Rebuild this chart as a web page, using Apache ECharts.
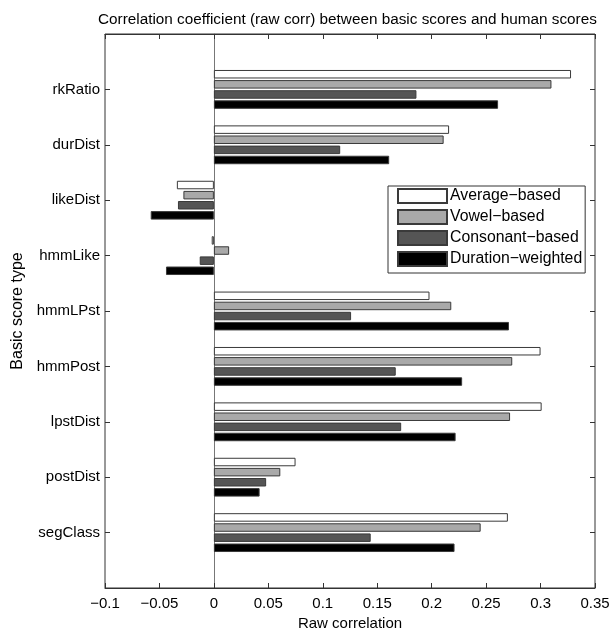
<!DOCTYPE html>
<html>
<head>
<meta charset="utf-8">
<title>Correlation coefficient</title>
<script src="https://cdn.jsdelivr.net/npm/echarts@6/dist/echarts.min.js"></script>
<style>
    html, body { margin: 0; padding: 0; background: #fff; }
    #chart { width: 613px; height: 628px; }
</style>
</head>
<body>
<div id="chart"></div>
<script>
    // 类别 (从上到下)
    var categories = ['rkRatio', 'durDist', 'likeDist', 'hmmLike', 'hmmLPst', 'hmmPost', 'lpstDist', 'postDist', 'segClass'];

    var seriesNames = ['Average\u2212based', 'Vowel\u2212based', 'Consonant\u2212based', 'Duration\u2212weighted'];

    var averageBased = [0.328, 0.216, -0.034, -0.002, 0.198, 0.300, 0.301, 0.075, 0.270];
    var vowelBased = [0.310, 0.211, -0.028, 0.014, 0.218, 0.274, 0.272, 0.061, 0.245];
    var consonantBased = [0.186, 0.116, -0.033, -0.013, 0.126, 0.167, 0.172, 0.048, 0.144];
    var durationWeighted = [0.261, 0.161, -0.058, -0.044, 0.271, 0.228, 0.222, 0.042, 0.221];

    var xTicks = { min: -0.1, max: 0.35, interval: 0.05 };

    var barColors = ['#ffffff', '#a9a9a9', '#555555', '#000000'];
    var font = 'Liberation Sans, Arial, Helvetica, sans-serif';

    var chart = echarts.init(document.getElementById('chart'), null, { renderer: 'canvas' });

    function tickLabel(v) {
        var s = String(Math.round(v * 1000) / 1000);
        return s.replace('-', '\u2212');
    }

    var allValues = [averageBased, vowelBased, consonantBased, durationWeighted];
    var series = [];
    for (var i = 0; i < allValues.length; i++) {
        series.push({
            name: seriesNames[i],
            type: 'bar',
            xAxisIndex: 2,
            yAxisIndex: 1,
            data: allValues[i],
            barWidth: 8.5,
            barGap: '19%',
            itemStyle: {
                color: barColors[i],
                borderColor: '#3a3a3a',
                borderWidth: 1
            },
            emphasis: { disabled: true },
            animation: false
        });
    }

    var option = {
        backgroundColor: '#ffffff',
        animation: false,
        textStyle: { fontFamily: font, color: '#000' },
        title: {
            text: 'Correlation coefficient (raw corr) between basic scores and human scores',
            left: 93,
            top: 7,
            textStyle: { fontFamily: font, fontSize: 15.3, fontWeight: 'normal', color: '#000' }
        },
        legend: {
            data: seriesNames,
            orient: 'vertical',
            left: 388,
            top: 186,
            icon: 'rect',
            itemWidth: 49,
            itemHeight: 14,
            itemGap: 5,
            padding: [2, 3, 6, 9],
            backgroundColor: '#fff',
            borderColor: '#333',
            borderWidth: 1,
            borderRadius: 0,
            textStyle: { fontFamily: font, fontSize: 15.8, lineHeight: 14, color: '#000', padding: [0, 0, 0, -2] }
        },
        grid: [
            // 外框
            { left: 105, right: 18, top: 34, height: 554, outerBoundsMode: 'none', containLabel: false,
              show: true, borderColor: '#333', borderWidth: 1, backgroundColor: 'transparent' },
            // 柱子区域 (上下各留半格)
            { left: 105, right: 18, top: 61.7, height: 498.6, outerBoundsMode: 'none', containLabel: false }
        ],
        xAxis: [
            {
                gridIndex: 0, type: 'value', position: 'bottom',
                min: xTicks.min, max: xTicks.max, interval: xTicks.interval,
                name: 'Raw correlation', nameLocation: 'middle', nameGap: 26,
                nameTextStyle: { fontFamily: font, fontSize: 15, color: '#000' },
                axisLine: { show: true, onZero: false, lineStyle: { color: '#333' } },
                axisTick: { show: true, inside: true, length: 5, lineStyle: { color: '#333' } },
                axisLabel: { fontFamily: font, fontSize: 15, color: '#000', margin: 8, formatter: tickLabel },
                splitLine: { show: false }
            },
            {
                gridIndex: 0, type: 'value', position: 'top',
                min: xTicks.min, max: xTicks.max, interval: xTicks.interval,
                axisLine: { show: true, onZero: false, lineStyle: { color: '#333' } },
                axisTick: { show: true, inside: true, length: 5, lineStyle: { color: '#333' } },
                axisLabel: { show: false },
                splitLine: { show: false }
            },
            {
                gridIndex: 1, type: 'value', show: false,
                min: xTicks.min, max: xTicks.max, interval: xTicks.interval,
                splitLine: { show: false }
            }
        ],
        yAxis: [
            {
                // 只用来画 x=0 的基线
                gridIndex: 0, type: 'value', min: 0, max: 10,
                axisLine: { show: true, onZero: true, onZeroAxisIndex: 0, lineStyle: { color: '#777', width: 1 } },
                axisTick: { show: false },
                axisLabel: { show: false },
                splitLine: { show: false }
            },
            {
                gridIndex: 1, type: 'category', inverse: true, position: 'left',
                data: categories,
                name: 'Basic score type', nameLocation: 'middle', nameGap: 77,
                nameTextStyle: { fontFamily: font, fontSize: 16, color: '#000' },
                axisLine: { show: false, onZero: false },
                axisTick: { show: true, inside: true, length: 5, alignWithLabel: true, lineStyle: { color: '#333' } },
                axisLabel: { fontFamily: font, fontSize: 15, color: '#000', margin: 5 },
                splitLine: { show: false }
            },
            {
                gridIndex: 1, type: 'category', inverse: true, position: 'right',
                data: categories,
                axisLine: { show: false, onZero: false },
                axisTick: { show: true, inside: true, length: 5, alignWithLabel: true, lineStyle: { color: '#333' } },
                axisLabel: { show: false },
                splitLine: { show: false }
            }
        ],
        series: series
    };

    chart.setOption(option);
</script>
</body>
</html>
